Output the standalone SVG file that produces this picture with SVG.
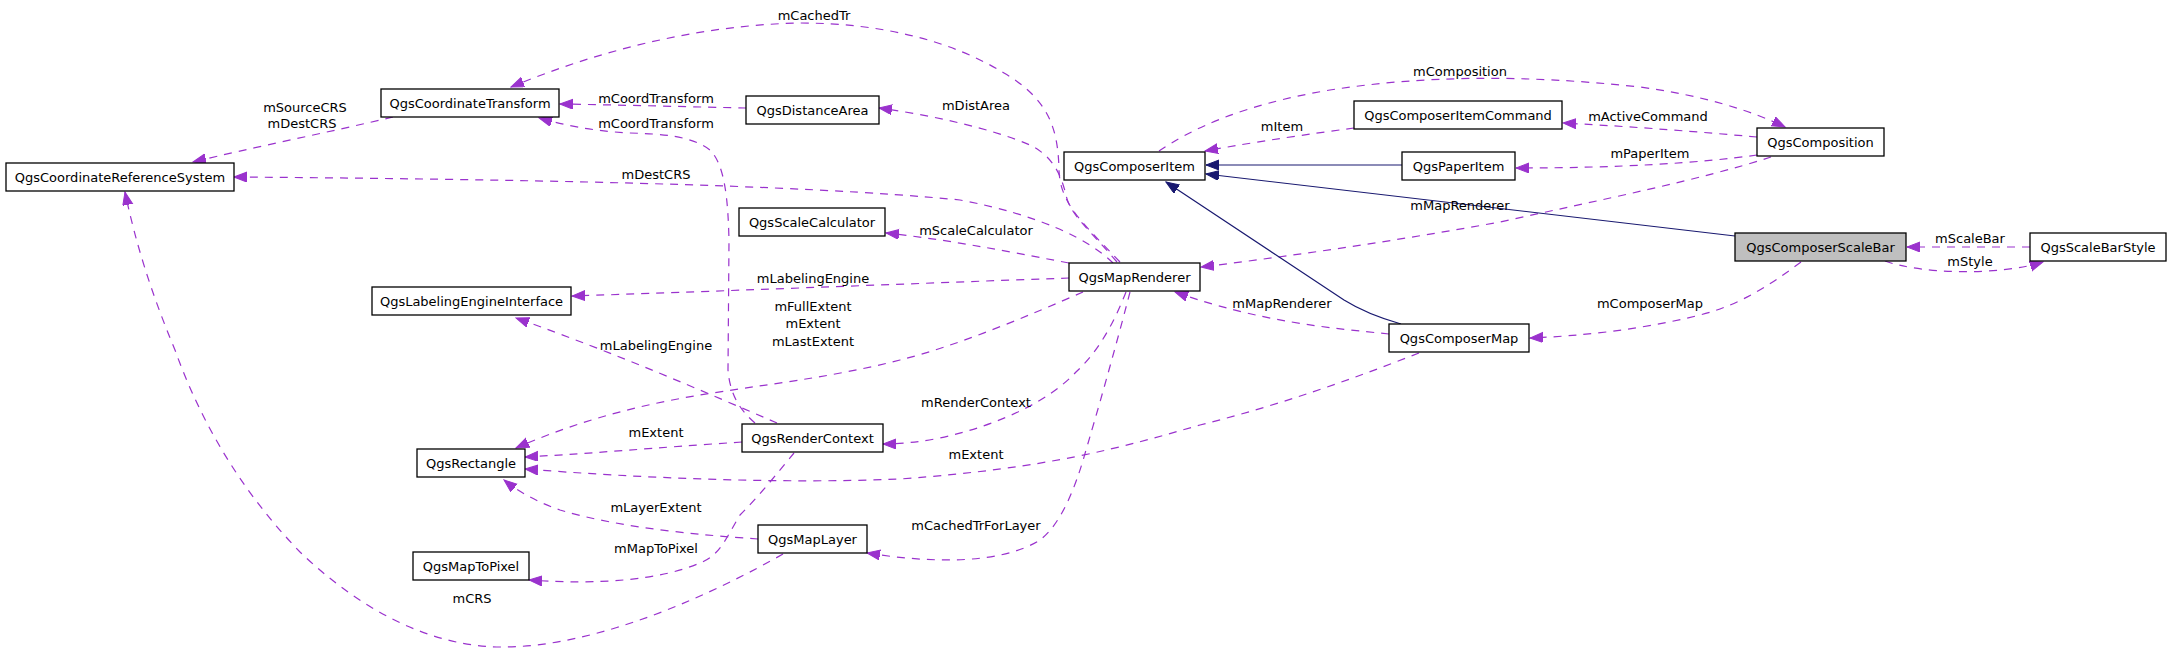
<svg xmlns="http://www.w3.org/2000/svg" width="2168" height="664" viewBox="0 0 2168 664">
<style>
text{font-family:"DejaVu Sans","Liberation Sans",sans-serif;font-size:13px;fill:#000;text-anchor:middle}
.n rect{fill:#fff;stroke:#000;stroke-width:1.3}
.n.main rect{fill:#bfbfbf}
.e{fill:none;stroke:#9a32cd;stroke-width:1.2;stroke-dasharray:8,7;marker-end:url(#ap)}
.i{fill:none;stroke:#191970;stroke-width:1.2;marker-end:url(#ai)}
</style>
<defs>
<marker id="ap" markerUnits="userSpaceOnUse" markerWidth="14" markerHeight="11" refX="13" refY="5" orient="auto"><path d="M0,0 L13,5 L0,10 z" fill="#9a32cd" stroke="#9a32cd" stroke-width="1"/></marker>
<marker id="ai" markerUnits="userSpaceOnUse" markerWidth="14" markerHeight="11" refX="13" refY="5" orient="auto"><path d="M0,0 L13,5 L0,10 z" fill="#191970" stroke="#191970" stroke-width="1"/></marker>
</defs>
<rect width="2168" height="664" fill="#fff"/>
<g id="connectors">
<path class="e" d="M393,117 C330,132 250,148 193,162"/>
<path class="e" d="M1113,263 C1090,240 1040,215 960,200 C800,184 500,179 234,177"/>
<path class="e" d="M1120,262 C1085,225 1060,205 1059,170 C1058,130 1050,100 1004,73 C950,40 880,23 800,23 C700,25 600,50 511,87"/>
<path class="e" d="M746,108 C700,107 620,105 560,104"/>
<path class="e" d="M755,423 C740,410 730,395 728,370 L729,240 C728,200 725,165 710,150 C690,135 660,134 630,133 C590,131 560,124 539,118"/>
<path class="e" d="M1117,262 C1090,230 1070,215 1066,195 C1060,170 1050,155 1030,145 C990,128 930,115 879,108"/>
<path class="e" d="M1069,263 C1000,250 950,240 886,233"/>
<path class="e" d="M1069,278 C900,284 700,292 572,296"/>
<path class="e" d="M1083,292 C1030,315 960,345 900,360 C830,378 760,385 700,395 C640,405 580,420 516,448"/>
<path class="e" d="M777,423 C700,390 620,355 516,318"/>
<path class="e" d="M742,442 C650,448 600,453 525,457"/>
<path class="e" d="M1419,353 C1350,380 1280,405 1200,425 C1120,448 1050,468 900,479 C780,484 640,478 525,469"/>
<path class="e" d="M758,539 C700,535 620,528 560,510 C540,503 520,493 504,480"/>
<path class="e" d="M794,453 C780,470 760,495 740,515 C725,540 720,555 700,563 C660,580 600,585 529,580"/>
<path class="e" d="M783,554 C720,590 600,648 500,647 C420,646 350,600 300,552 C240,490 200,420 175,350 C150,290 135,240 125,192"/>
<path class="e" d="M1126,292 C1115,320 1100,350 1076,372 C1050,400 1000,425 940,438 C920,442 900,444 883,444"/>
<path class="e" d="M1130,292 C1115,350 1095,420 1086,450 C1075,490 1060,525 1040,540 C1000,565 930,563 867,553"/>
<path class="e" d="M1389,334 C1330,328 1260,322 1175,292"/>
<path class="e" d="M1771,157 C1700,180 1600,200 1500,222 C1400,240 1300,255 1201,267"/>
<path class="e" d="M1757,137 C1700,132 1640,127 1563,123"/>
<path class="e" d="M1757,155 C1700,163 1620,168 1516,168"/>
<path class="e" d="M1159,151 C1190,130 1240,105 1330,90 C1420,76 1520,74 1640,87 C1700,95 1750,110 1785,127"/>
<path class="e" d="M1354,128 C1310,134 1260,141 1205,151"/>
<path class="e" d="M1801,262 C1770,285 1740,305 1700,315 C1640,330 1580,336 1530,338"/>
<path class="e" d="M2030,247 L1907,247"/>
<path class="e" d="M1885,261 C1920,274 2000,276 2043,262"/>
<path class="i" d="M1402,165 L1206,165"/>
<path class="i" d="M1735,236 L1206,174"/>
<path class="i" d="M1401,324 C1380,318 1360,310 1344,300 L1166,182"/>
<text x="305" y="112">mSourceCRS</text>
<text x="302" y="128">mDestCRS</text>
<text x="814" y="20">mCachedTr</text>
<text x="656" y="103">mCoordTransform</text>
<text x="656" y="128">mCoordTransform</text>
<text x="976" y="110">mDistArea</text>
<text x="656" y="179">mDestCRS</text>
<text x="976" y="235">mScaleCalculator</text>
<text x="1460" y="76">mComposition</text>
<text x="1282" y="131">mItem</text>
<text x="1460" y="210">mMapRenderer</text>
<text x="1648" y="121">mActiveCommand</text>
<text x="1650" y="158">mPaperItem</text>
<text x="1970" y="243">mScaleBar</text>
<text x="1970" y="266">mStyle</text>
<text x="813" y="283">mLabelingEngine</text>
<text x="813" y="311">mFullExtent</text>
<text x="813" y="328">mExtent</text>
<text x="813" y="346">mLastExtent</text>
<text x="656" y="350">mLabelingEngine</text>
<text x="976" y="407">mRenderContext</text>
<text x="656" y="437">mExtent</text>
<text x="976" y="459">mExtent</text>
<text x="1282" y="308">mMapRenderer</text>
<text x="1650" y="308">mComposerMap</text>
<text x="472" y="603">mCRS</text>
<text x="656" y="512">mLayerExtent</text>
<text x="656" y="553">mMapToPixel</text>
<text x="976" y="530">mCachedTrForLayer</text>
</g>
<g id="QgsCoordinateReferenceSystem" class="n"><rect x="6" y="163" width="228" height="28"/><text x="120" y="182">QgsCoordinateReferenceSystem</text></g>
<g id="QgsCoordinateTransform" class="n"><rect x="381" y="89" width="178" height="28"/><text x="470" y="108">QgsCoordinateTransform</text></g>
<g id="QgsDistanceArea" class="n"><rect x="746" y="96" width="133" height="28"/><text x="812.5" y="115">QgsDistanceArea</text></g>
<g id="QgsScaleCalculator" class="n"><rect x="739" y="208" width="146" height="28"/><text x="812" y="227">QgsScaleCalculator</text></g>
<g id="QgsLabelingEngineInterface" class="n"><rect x="372" y="287" width="199" height="28"/><text x="471.5" y="306">QgsLabelingEngineInterface</text></g>
<g id="QgsRectangle" class="n"><rect x="417" y="449" width="108" height="28"/><text x="471" y="468">QgsRectangle</text></g>
<g id="QgsRenderContext" class="n"><rect x="742" y="424" width="141" height="28"/><text x="812.5" y="443">QgsRenderContext</text></g>
<g id="QgsMapToPixel" class="n"><rect x="413" y="552" width="116" height="28"/><text x="471" y="571">QgsMapToPixel</text></g>
<g id="QgsMapLayer" class="n"><rect x="758" y="525" width="109" height="28"/><text x="812.5" y="544">QgsMapLayer</text></g>
<g id="QgsMapRenderer" class="n"><rect x="1069" y="263" width="131" height="28"/><text x="1134.5" y="282">QgsMapRenderer</text></g>
<g id="QgsComposerItem" class="n"><rect x="1064" y="152" width="141" height="28"/><text x="1134.5" y="171">QgsComposerItem</text></g>
<g id="QgsComposerItemCommand" class="n"><rect x="1354" y="101" width="208" height="28"/><text x="1458" y="120">QgsComposerItemCommand</text></g>
<g id="QgsPaperItem" class="n"><rect x="1402" y="152" width="113" height="28"/><text x="1458.5" y="171">QgsPaperItem</text></g>
<g id="QgsComposition" class="n"><rect x="1757" y="128" width="127" height="28"/><text x="1820.5" y="147">QgsComposition</text></g>
<g id="QgsComposerMap" class="n"><rect x="1389" y="324" width="140" height="28"/><text x="1459" y="343">QgsComposerMap</text></g>
<g id="QgsComposerScaleBar" class="n main"><rect x="1735" y="233" width="171" height="28"/><text x="1820.5" y="252">QgsComposerScaleBar</text></g>
<g id="QgsScaleBarStyle" class="n"><rect x="2030" y="233" width="136" height="28"/><text x="2098" y="252">QgsScaleBarStyle</text></g>
</svg>
